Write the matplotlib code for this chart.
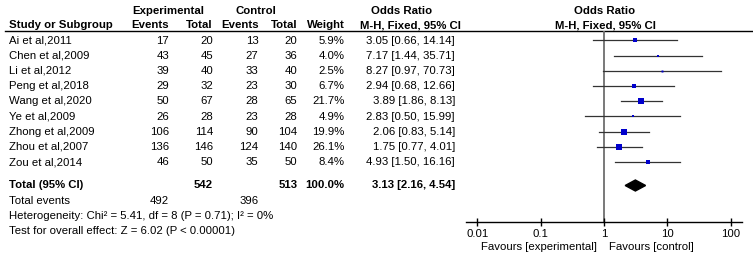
import matplotlib
matplotlib.use("Agg")
import matplotlib.pyplot as plt
import numpy as np

# ---------------- data ----------------
studies = ["Ai et al,2011", "Chen et al,2009", "Li et al,2012", "Peng et al,2018",
           "Wang et al,2020", "Ye et al,2009", "Zhong et al,2009", "Zhou et al,2007",
           "Zou et al,2014"]
exp_events = [17, 43, 39, 29, 50, 26, 106, 136, 46]
exp_total = [20, 45, 40, 32, 67, 28, 114, 146, 50]
ctrl_events = [13, 27, 33, 23, 28, 23, 90, 124, 35]
ctrl_total = [20, 36, 40, 30, 65, 28, 104, 140, 50]
weights = [5.9, 4.0, 2.5, 6.7, 21.7, 4.9, 19.9, 26.1, 8.4]
or_est = [3.05, 7.17, 8.27, 2.94, 3.89, 2.83, 2.06, 1.75, 4.93]
ci_low = [0.66, 1.44, 0.97, 0.68, 1.86, 0.50, 0.83, 0.77, 1.50]
ci_high = [14.14, 35.71, 70.73, 12.66, 8.13, 15.99, 5.14, 4.01, 16.16]

total_exp = 542
total_ctrl = 513
total_weight = 100.0
total_or = 3.13
total_lo = 2.16
total_hi = 4.54
total_exp_events = 492
total_ctrl_events = 396
het_text = "Heterogeneity: Chi\u00b2 = 5.41, df = 8 (P = 0.71); I\u00b2 = 0%"
test_text = "Test for overall effect: Z = 6.02 (P < 0.00001)"
tick_values = [0.01, 0.1, 1, 10, 100]
tick_labels = ["0.01", "0.1", "1", "10", "100"]

# ---------------- style ----------------
plt.rcParams['font.family'] = ['Liberation Sans', 'DejaVu Sans']
FS = 8.2
W, H = 753, 260
fig = plt.figure(figsize=(W / 100, H / 100), dpi=100)
bg = fig.add_axes([0, 0, 1, 1])
bg.set_xlim(0, W)
bg.set_ylim(H, 0)
bg.axis('off')

row0, dy = 40.5, 15.2
rows_y = [row0 + i * dy for i in range(len(studies))]
y_total = 185.5
y_tev = y_total + 15.2
y_het = y_tev + 15.2
y_test = y_het + 15.2
y_head1, y_head2 = 10.5, 25.0
y_rule = 31.0
axis_y = 221.5

x_study = 9
x_ee, x_et, x_ce, x_ct, x_w, x_or = 169, 213, 258.5, 297.5, 344.5, 455

def t(x, y, s, ha='left', bold=False):
    bg.text(x, y, s, ha=ha, va='center', fontsize=FS,
            fontweight='bold' if bold else 'normal', color='#000000')

# headers
t(168.5, y_head1, "Experimental", 'center', True)
t(256, y_head1, "Control", 'center', True)
t(402, y_head1, "Odds Ratio", 'center', True)
t(605, y_head1, "Odds Ratio", 'center', True)
t(x_study, y_head2, "Study or Subgroup", 'left', True)
t(x_ee, y_head2, "Events", 'right', True)
t(x_et, y_head2, "Total", 'right', True)
t(x_ce, y_head2, "Events", 'right', True)
t(x_ct, y_head2, "Total", 'right', True)
t(x_w, y_head2, "Weight", 'right', True)
t(410, y_head2, "M-H, Fixed, 95% CI", 'center', True)
t(605, y_head2, "M-H, Fixed, 95% CI", 'center', True)
bg.plot([5, W], [y_rule, y_rule], color='#000000', lw=1.0)

# study rows
for i, y in enumerate(rows_y):
    t(x_study, y, studies[i])
    t(x_ee, y, str(exp_events[i]), 'right')
    t(x_et, y, str(exp_total[i]), 'right')
    t(x_ce, y, str(ctrl_events[i]), 'right')
    t(x_ct, y, str(ctrl_total[i]), 'right')
    t(x_w, y, f"{weights[i]:.1f}%", 'right')
    t(x_or, y, f"{or_est[i]:.2f} [{ci_low[i]:.2f}, {ci_high[i]:.2f}]", 'right')

# totals
t(x_study, y_total, "Total (95% CI)", bold=True)
t(x_et, y_total, str(total_exp), 'right', True)
t(x_ct, y_total, str(total_ctrl), 'right', True)
t(x_w, y_total, f"{total_weight:.1f}%", 'right', True)
t(x_or, y_total, f"{total_or:.2f} [{total_lo:.2f}, {total_hi:.2f}]", 'right', True)
t(x_study, y_tev, "Total events")
t(x_ee, y_tev, str(total_exp_events), 'right')
t(x_ce, y_tev, str(total_ctrl_events), 'right')
t(x_study, y_het, het_text)
t(x_study, y_test, test_text)

# ---------------- forest axes ----------------
ax_l, ax_r = 466, 742
ax = fig.add_axes([ax_l / W, 1 - axis_y / H, (ax_r - ax_l) / W, (axis_y - y_rule) / H])
ax.set_xscale('log')
span = 2.18
ax.set_xlim(10 ** -span, 10 ** span)
ax.set_ylim(axis_y, y_rule)
ax.patch.set_alpha(0)
for s in ['top', 'right', 'left']:
    ax.spines[s].set_visible(False)
ax.spines['bottom'].set_linewidth(1.0)
ax.set_yticks([])
ax.set_xticks(tick_values)
ax.set_xticklabels(tick_labels, fontsize=FS)
ax.xaxis.set_minor_locator(matplotlib.ticker.NullLocator())
ax.tick_params(axis='x', direction='inout', length=6, width=1.0, pad=2.5)

ax.axvline(1, color='#6e6e6e', lw=1.3, zorder=1)

for i, y in enumerate(rows_y):
    ax.plot([ci_low[i], ci_high[i]], [y, y], color='#333333', lw=0.9, zorder=2)
    side_px = 1.25 * np.sqrt(weights[i])
    ax.plot([or_est[i]], [y], marker='s', ms=side_px * 0.72, color='#0000cc',
            mec='#0000cc', mew=0, linestyle='none', zorder=3)

hd = 5.5
ax.fill([total_lo, total_or, total_hi, total_or],
        [y_total, y_total - hd, y_total, y_total + hd], color='#000000', zorder=3)

bg.text(597, 246.5, "Favours [experimental]", ha='right', va='center', fontsize=FS)
bg.text(609, 246.5, "Favours [control]", ha='left', va='center', fontsize=FS)

fig.savefig("out.png", dpi=100)
